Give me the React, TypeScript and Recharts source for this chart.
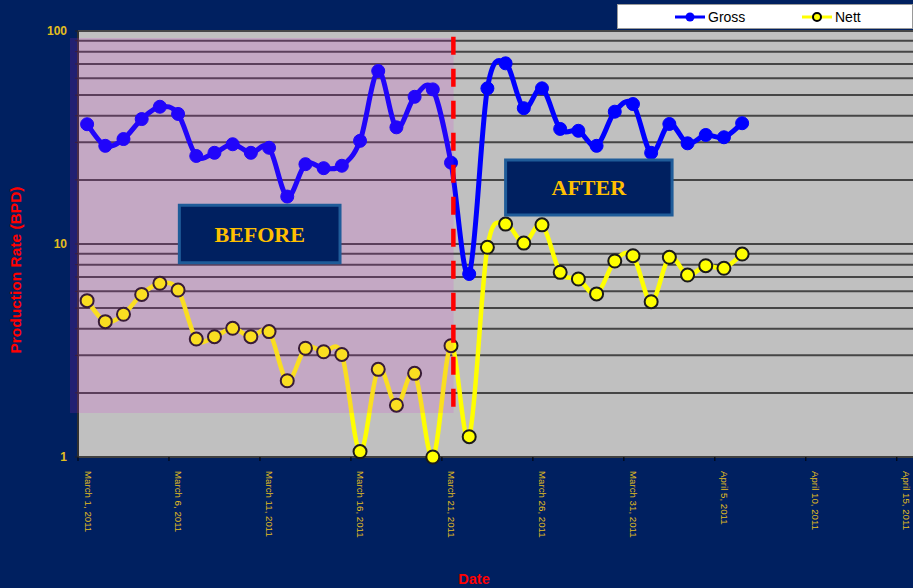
import React from 'react';
import { LineChart, Line, XAxis, YAxis, CartesianGrid, ReferenceArea, ReferenceLine, Label } from 'recharts';

// ---- data ----
const dates = [
  '2011-03-01', '2011-03-02', '2011-03-03', '2011-03-04', '2011-03-05', '2011-03-06', '2011-03-07', '2011-03-08',
  '2011-03-09', '2011-03-10', '2011-03-11', '2011-03-12', '2011-03-13', '2011-03-14', '2011-03-15', '2011-03-16',
  '2011-03-17', '2011-03-18', '2011-03-19', '2011-03-20', '2011-03-21', '2011-03-22', '2011-03-23', '2011-03-24',
  '2011-03-25', '2011-03-26', '2011-03-27', '2011-03-28', '2011-03-29', '2011-03-30', '2011-03-31', '2011-04-01',
  '2011-04-02', '2011-04-03', '2011-04-04', '2011-04-05', '2011-04-06',
];
const gross = [
  36.5, 28.9, 31.1, 38.6, 44.1, 40.8, 25.9, 26.8, 29.4, 26.8, 28.3, 16.7, 23.7, 22.7, 23.3, 30.5,
  64.9, 35.3, 49.1, 53.2, 24.1, 7.23, 53.8, 70.5, 43.4, 53.8, 34.7, 34.0, 28.9, 41.8, 45.4, 26.8,
  36.6, 29.7, 32.5, 31.7, 36.9,
];
const nett = [
  5.42, 4.32, 4.68, 5.8, 6.54, 6.08, 3.58, 3.67, 4.02, 3.67, 3.88, 2.28, 3.24, 3.12, 3.03, 1.06,
  2.58, 1.75, 2.47, 1.0, 3.33, 1.245, 9.65, 12.4, 10.1, 12.3, 7.36, 6.85, 5.83, 8.32, 8.81, 5.36,
  8.66, 7.15, 7.91, 7.69, 8.97,
];
const xTickValues = [0, 5, 10, 15, 20, 25, 30, 35, 40, 45];
const xTickLabels = [
  'March 1, 2011', 'March 6, 2011', 'March 11, 2011', 'March 16, 2011', 'March 21, 2011',
  'March 26, 2011', 'March 31, 2011', 'April 5, 2011', 'April 10, 2011', 'April 15, 2011',
];
const yTicks = [1, 2, 3, 4, 5, 6, 7, 8, 9, 10, 20, 30, 40, 50, 60, 70, 80, 90, 100];
const yTickLabels = [1, 10, 100];

// annotation placement (in data units)
const beforeRegion = { x1: -0.44, x2: 20.64, y1: 1.61, y2: 92.7 };
const splitDay = 20.63;
const beforeBox = { x1: 5.57, x2: 14.4, y1: 8.17, y2: 15.2 };
const afterBox = { x1: 23.5, x2: 32.65, y1: 13.7, y2: 24.8 };

const START = Date.UTC(2011, 2, 1);
const DAY = 86400000;
const tableData = dates.map((d, i) => ({
  day: (Date.parse(d + 'T00:00:00Z') - START) / DAY + 0.5,
  gross: gross[i],
  nett: nett[i],
}));

// Excel-like smoothed line (Catmull-Rom bezier)
const excelSmooth: any = (context: any) => {
  let pts: number[][] = [];
  return {
    areaStart() {},
    areaEnd() {},
    lineStart() {
      pts = [];
    },
    point(x: number, y: number) {
      pts.push([+x, +y]);
    },
    lineEnd() {
      const n = pts.length;
      if (!n) return;
      context.moveTo(pts[0][0], pts[0][1]);
      for (let i = 0; i < n - 1; i++) {
        const p0 = pts[i > 0 ? i - 1 : 0];
        const p1 = pts[i];
        const p2 = pts[i + 1];
        const p3 = pts[i + 2 < n ? i + 2 : n - 1];
        context.bezierCurveTo(
          p1[0] + (p2[0] - p0[0]) / 6,
          p1[1] + (p2[1] - p0[1]) / 6,
          p2[0] - (p3[0] - p1[0]) / 6,
          p2[1] - (p3[1] - p1[1]) / 6,
          p2[0],
          p2[1],
        );
      }
    },
  };
};

const GOLD = '#E3BE1E';
const SANS = "'Liberation Sans', Arial, sans-serif";

const XTick = (props: any) => {
  const { x, y, payload } = props;
  const idx = xTickValues.indexOf(payload.value);
  return (
    <text
      transform={`translate(${x + 10},${y}) rotate(90)`}
      textAnchor="start"
      dominantBaseline="central"
      fill={GOLD}
      fontSize={9.7}
      fontFamily={SANS}
    >
      {idx >= 0 ? xTickLabels[idx] : ''}
    </text>
  );
};

const YTick = (props: any) => {
  const { x, y, payload } = props;
  if (!yTickLabels.includes(payload.value)) return <g />;
  return (
    <text x={x} y={y} textAnchor="end" dominantBaseline="central" fill={GOLD} fontSize={12} fontWeight="bold" fontFamily={SANS}>
      {payload.value}
    </text>
  );
};

const boxLabel = (text: string, size: number) => (
  <Label
    value={text}
    position="center"
    fill="#FFC000"
    fontSize={size}
    fontWeight="bold"
    fontFamily="'Liberation Serif', 'DejaVu Serif', serif"
  />
);

export default function App() {
  return (
    <div
      style={{
        position: 'absolute',
        left: 0,
        top: 0,
        width: 913,
        height: 588,
        overflow: 'hidden',
        background: '#002060',
      }}
    >
      <LineChart width={915} height={588} data={tableData} margin={{ top: 31, right: 0, bottom: 0, left: 0 }}>
        <CartesianGrid vertical={false} stroke="#454545" strokeWidth={2} fill="#C0C0C0" fillOpacity={1} />
        <XAxis
          dataKey="day"
          type="number"
          domain={[0, 46]}
          ticks={xTickValues}
          interval={0}
          height={131}
          tick={<XTick />}
          tickSize={4}
          tickMargin={10}
          tickLine={{ stroke: '#000', strokeWidth: 1 }}
          axisLine={{ stroke: '#404040', strokeWidth: 2 }}
        />
        <YAxis
          type="number"
          scale="log"
          domain={[1, 100]}
          ticks={yTicks}
          interval={0}
          width={78}
          tick={<YTick />}
          tickSize={3}
          tickMargin={8}
          tickLine={{ stroke: '#202020', strokeWidth: 1 }}
          axisLine={{ stroke: '#303030', strokeWidth: 2 }}
        />
        <Line
          dataKey="gross"
          name="Gross"
          type={excelSmooth}
          stroke="#0000FF"
          strokeWidth={5}
          dot={{ r: 6.5, fill: '#0000FF', stroke: '#0000FF', strokeWidth: 1 }}
          activeDot={false}
          isAnimationActive={false}
        />
        <Line
          dataKey="nett"
          name="Nett"
          type={excelSmooth}
          stroke="#FFFF00"
          strokeWidth={4.5}
          dot={{ r: 6.5, fill: '#FFFF00', stroke: '#1A1A1A', strokeWidth: 2 }}
          activeDot={false}
          isAnimationActive={false}
        />
        <ReferenceArea
          {...({ zIndex: 1500 } as any)}
          x1={beforeRegion.x1}
          x2={beforeRegion.x2}
          y1={beforeRegion.y1}
          y2={beforeRegion.y2}
          fill="rgb(219,32,219)"
          fillOpacity={0.15}
          stroke="none"
          ifOverflow="visible"
        />
        <ReferenceLine
          {...({ zIndex: 1550 } as any)}
          segment={[
            { x: splitDay, y: 94 },
            { x: splitDay, y: 1.61 },
          ]}
          stroke="#FF0000"
          strokeWidth={4.5}
          strokeDasharray="18 14"
          ifOverflow="visible"
        />
        <ReferenceArea
          {...({ zIndex: 1600 } as any)}
          x1={beforeBox.x1}
          x2={beforeBox.x2}
          y1={beforeBox.y1}
          y2={beforeBox.y2}
          fill="#002060"
          fillOpacity={1}
          stroke="#1F5C99"
          strokeWidth={3}
          ifOverflow="visible"
          label={boxLabel('BEFORE', 22)}
        />
        <ReferenceArea
          {...({ zIndex: 1600 } as any)}
          x1={afterBox.x1}
          x2={afterBox.x2}
          y1={afterBox.y1}
          y2={afterBox.y2}
          fill="#002060"
          fillOpacity={1}
          stroke="#1F5C99"
          strokeWidth={3}
          ifOverflow="visible"
          label={boxLabel('AFTER', 22)}
        />
      </LineChart>

      {/* axis titles */}
      <div
        style={{
          position: 'absolute',
          left: 16 - 120,
          top: 270 - 9,
          width: 240,
          height: 18,
          lineHeight: '18px',
          textAlign: 'center',
          transform: 'rotate(-90deg)',
          color: '#FF0000',
          fontFamily: SANS,
          fontWeight: 'bold',
          fontSize: 15.5,
        }}
      >
        Production Rate (BPD)
      </div>
      <div
        style={{
          position: 'absolute',
          left: 474 - 50,
          top: 570,
          width: 100,
          height: 18,
          lineHeight: '18px',
          textAlign: 'center',
          color: '#FF0000',
          fontFamily: SANS,
          fontWeight: 'bold',
          fontSize: 14.5,
        }}
      >
        Date
      </div>

      {/* legend */}
      <div
        style={{
          position: 'absolute',
          left: 617,
          top: 4,
          width: 294,
          height: 23,
          background: '#FFFFFF',
          border: '1px solid #9A9A9A',
          fontFamily: SANS,
          fontSize: 14,
          color: '#000',
        }}
      >
        <svg width={294} height={23} style={{ position: 'absolute', left: 0, top: 0 }}>
          <line x1={57} y1={12} x2={87} y2={12} stroke="#0000FF" strokeWidth={3} />
          <circle cx={72} cy={12} r={4.5} fill="#0000FF" />
          <text x={90} y={12} dominantBaseline="central" fontFamily={SANS} fontSize={14} fill="#000">
            Gross
          </text>
          <line x1={184} y1={12} x2={214} y2={12} stroke="#FFFF00" strokeWidth={3} />
          <circle cx={199} cy={12} r={4} fill="#FFFF00" stroke="#000" strokeWidth={2} />
          <text x={217} y={12} dominantBaseline="central" fontFamily={SANS} fontSize={14} fill="#000">
            Nett
          </text>
        </svg>
      </div>
    </div>
  );
}
